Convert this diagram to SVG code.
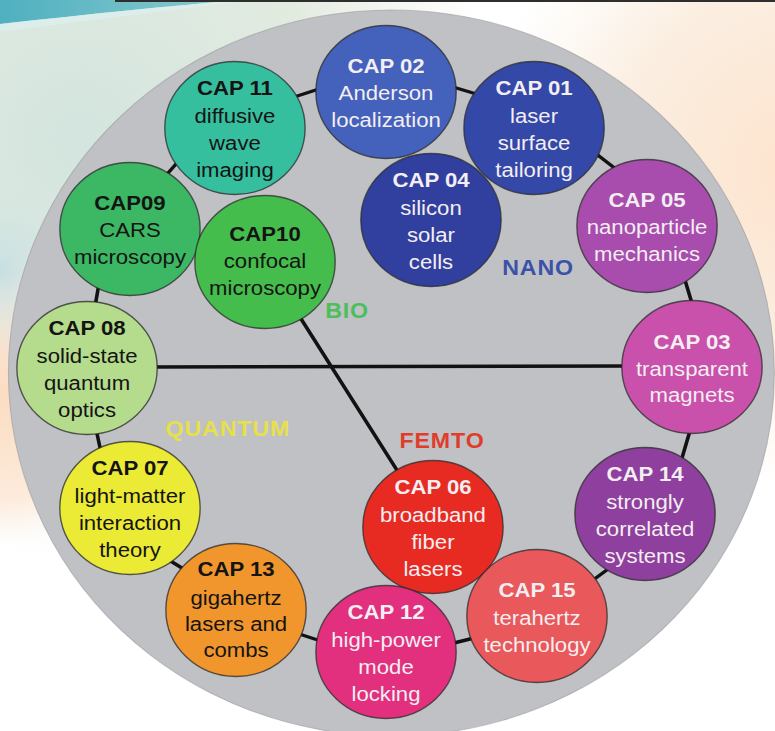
<svg xmlns="http://www.w3.org/2000/svg" width="775" height="731" viewBox="0 0 775 731">
  <defs>
    <radialGradient id="bgLeftTop" cx="80" cy="140" r="420" gradientUnits="userSpaceOnUse">
      <stop offset="0" stop-color="#d3e5df"/>
      <stop offset="0.6" stop-color="#e3ebe0"/>
      <stop offset="1" stop-color="#eef0e6" stop-opacity="0"/>
    </radialGradient>
    <radialGradient id="bgRight" cx="800" cy="170" r="320" gradientUnits="userSpaceOnUse">
      <stop offset="0" stop-color="#fde3cd"/>
      <stop offset="0.6" stop-color="#fbefe2"/>
      <stop offset="1" stop-color="#fbf3ea" stop-opacity="0"/>
    </radialGradient>
    <radialGradient id="bgLeftMid" cx="0" cy="395" r="150" gradientUnits="userSpaceOnUse">
      <stop offset="0" stop-color="#fbdcc2"/>
      <stop offset="0.7" stop-color="#fdebdc"/>
      <stop offset="1" stop-color="#fff6ee" stop-opacity="0"/>
    </radialGradient>
    <radialGradient id="bgLeftBlue" cx="0" cy="270" r="90" gradientUnits="userSpaceOnUse">
      <stop offset="0" stop-color="#c6dfe2"/>
      <stop offset="1" stop-color="#d6e6e2" stop-opacity="0"/>
    </radialGradient>
    <linearGradient id="swoosh" x1="0" y1="0" x2="240" y2="0" gradientUnits="userSpaceOnUse">
      <stop offset="0" stop-color="#4fb0bf"/>
      <stop offset="1" stop-color="#8ccbd0"/>
    </linearGradient>
    <style>
      .disc { fill: #c0c1c5; stroke: #8f9094; stroke-width: 1; stroke-opacity: 0.5; }
      .edge { stroke: #121212; stroke-width: 3.4; stroke-linecap: round; fill: none; }
      .node circle { stroke: #2a2a2a; stroke-width: 1.3; stroke-opacity: 0.75; }
      .node text { font-family: "Liberation Sans", Arial, sans-serif; font-size: 21px; text-anchor: middle; }
      .node .h { font-weight: bold; }
      .dk { fill: #141414; }
      .lt { fill: #f3eef1; }
      .zone { font-family: "Liberation Sans", Arial, sans-serif; font-size: 22px; font-weight: bold; text-anchor: middle; letter-spacing: 0.8px; }
    </style>
  </defs>

  <!-- backdrop -->
  <rect x="0" y="0" width="775" height="731" fill="#ffffff"/>
  <rect x="0" y="0" width="775" height="731" fill="url(#bgLeftTop)"/>
  <rect x="0" y="0" width="775" height="731" fill="url(#bgRight)"/>
  <rect x="0" y="0" width="775" height="731" fill="url(#bgLeftMid)"/>
  <rect x="0" y="0" width="775" height="731" fill="url(#bgLeftBlue)"/>
  <path d="M0,0 L240,0 C170,6 90,14 0,24 Z" fill="url(#swoosh)"/>
  <path d="M0,24 C90,14 170,6 240,0 L260,0 C180,9 90,20 0,32 Z" fill="#dcefee" opacity="0.8"/>
  <rect x="115" y="0" width="660" height="2" fill="#2e2e2e"/>

  <g transform="scale(1.055 1)">
    <circle class="disc" cx="371" cy="373" r="363"/>

    <g id="connectors">
      <line class="edge" x1="142.2" y1="367" x2="597.2" y2="366"/>
      <line class="edge" x1="251.2" y1="262" x2="410.4" y2="527"/>
      <line class="edge" x1="270.1" y1="100" x2="308.1" y2="87"/>
      <line class="edge" x1="419.9" y1="84" x2="457.8" y2="96"/>
      <line class="edge" x1="559.2" y1="149" x2="588.6" y2="173"/>
      <line class="edge" x1="646.4" y1="270" x2="657.8" y2="310"/>
      <line class="edge" x1="655.9" y1="424" x2="644.5" y2="465"/>
      <line class="edge" x1="582.9" y1="564" x2="554.5" y2="586"/>
      <line class="edge" x1="456.9" y1="636" x2="422.7" y2="645"/>
      <line class="edge" x1="312.8" y1="644" x2="274.9" y2="631"/>
      <line class="edge" x1="180.1" y1="573" x2="155.5" y2="557"/>
      <line class="edge" x1="96.7" y1="457" x2="90.0" y2="424"/>
      <line class="edge" x1="89.1" y1="312" x2="94.8" y2="278"/>
      <line class="edge" x1="152.6" y1="181" x2="174.4" y2="155"/>
    </g>

    <g id="cap11" class="node" transform="translate(222.7 128)">
      <circle r="66.5" fill="#36bf9f"/>
      <text class="dk"><tspan class="h" x="0" y="-33">CAP 11</tspan><tspan x="0" y="-5">diffusive</tspan><tspan x="0" y="22">wave</tspan><tspan x="0" y="49">imaging</tspan></text>
    </g>
    <g id="cap02" class="node" transform="translate(365.9 92)">
      <circle r="66.5" fill="#4461bb"/>
      <text class="lt"><tspan class="h" x="0" y="-19">CAP 02</tspan><tspan x="0" y="8">Anderson</tspan><tspan x="0" y="35">localization</tspan></text>
    </g>
    <g id="cap01" class="node" transform="translate(506.2 128)">
      <circle r="66.5" fill="#3448a8"/>
      <text class="lt"><tspan class="h" x="0" y="-33">CAP 01</tspan><tspan x="0" y="-5">laser</tspan><tspan x="0" y="22">surface</tspan><tspan x="0" y="49">tailoring</tspan></text>
    </g>
    <g id="cap04" class="node" transform="translate(408.5 220)">
      <circle r="66.5" fill="#31409f"/>
      <text class="lt"><tspan class="h" x="0" y="-33">CAP 04</tspan><tspan x="0" y="-5">silicon</tspan><tspan x="0" y="22">solar</tspan><tspan x="0" y="49">cells</tspan></text>
    </g>
    <g id="cap05" class="node" transform="translate(613.3 226)">
      <circle r="66.5" fill="#a84cae"/>
      <text class="lt"><tspan class="h" x="0" y="-19">CAP 05</tspan><tspan x="0" y="8">nanoparticle</tspan><tspan x="0" y="35">mechanics</tspan></text>
    </g>
    <g id="cap09" class="node" transform="translate(123.2 229)">
      <circle r="66.5" fill="#3cb764"/>
      <text class="dk"><tspan class="h" x="0" y="-19">CAP09</tspan><tspan x="0" y="8">CARS</tspan><tspan x="0" y="35">microscopy</tspan></text>
    </g>
    <g id="cap10" class="node" transform="translate(251.2 262)">
      <circle r="66.5" fill="#45bd4c"/>
      <text class="dk"><tspan class="h" x="0" y="-21">CAP10</tspan><tspan x="0" y="6">confocal</tspan><tspan x="0" y="33">microscopy</tspan></text>
    </g>
    <g id="cap08" class="node" transform="translate(82.5 368)">
      <circle r="66.5" fill="#b5db8c"/>
      <text class="dk"><tspan class="h" x="0" y="-33">CAP 08</tspan><tspan x="0" y="-5">solid-state</tspan><tspan x="0" y="22">quantum</tspan><tspan x="0" y="49">optics</tspan></text>
    </g>
    <g id="cap03" class="node" transform="translate(655.9 367)">
      <circle r="66.5" fill="#c950ab"/>
      <text class="lt"><tspan class="h" x="0" y="-18">CAP 03</tspan><tspan x="0" y="9">transparent</tspan><tspan x="0" y="35">magnets</tspan></text>
    </g>
    <g id="cap14" class="node" transform="translate(611.4 514)">
      <circle r="66.5" fill="#8f3f9d"/>
      <text class="lt"><tspan class="h" x="0" y="-33">CAP 14</tspan><tspan x="0" y="-5">strongly</tspan><tspan x="0" y="22">correlated</tspan><tspan x="0" y="49">systems</tspan></text>
    </g>
    <g id="cap07" class="node" transform="translate(123.2 508)">
      <circle r="66.5" fill="#ebea34"/>
      <text class="dk"><tspan class="h" x="0" y="-33">CAP 07</tspan><tspan x="0" y="-5">light-matter</tspan><tspan x="0" y="22">interaction</tspan><tspan x="0" y="49">theory</tspan></text>
    </g>
    <g id="cap06" class="node" transform="translate(410.4 527)">
      <circle r="66.5" fill="#e82b22"/>
      <text class="lt"><tspan class="h" x="0" y="-33">CAP 06</tspan><tspan x="0" y="-5">broadband</tspan><tspan x="0" y="22">fiber</tspan><tspan x="0" y="49">lasers</tspan></text>
    </g>
    <g id="cap15" class="node" transform="translate(509 616)">
      <circle r="66.5" fill="#e9585a"/>
      <text class="lt"><tspan class="h" x="0" y="-19">CAP 15</tspan><tspan x="0" y="9">terahertz</tspan><tspan x="0" y="36">technology</tspan></text>
    </g>
    <g id="cap13" class="node" transform="translate(223.7 610)">
      <circle r="66.5" fill="#f0962c"/>
      <text class="dk"><tspan class="h" x="0" y="-34">CAP 13</tspan><tspan x="0" y="-5">gigahertz</tspan><tspan x="0" y="21">lasers and</tspan><tspan x="0" y="47">combs</tspan></text>
    </g>
    <g id="cap12" class="node" transform="translate(365.9 652)">
      <circle r="66.5" fill="#e2307f"/>
      <text class="lt"><tspan class="h" x="0" y="-33">CAP 12</tspan><tspan x="0" y="-5">high-power</tspan><tspan x="0" y="22">mode</tspan><tspan x="0" y="49">locking</tspan></text>
    </g>

    <g id="zones">
      <text class="zone" x="510" y="275" fill="#3b52a8">NANO</text>
      <text class="zone" x="329" y="318" fill="#4cbf5a">BIO</text>
      <text class="zone" x="419" y="448" fill="#e03c2c">FEMTO</text>
      <text class="zone" x="216" y="436" fill="#e6e04a">QUANTUM</text>
    </g>
  </g>
</svg>
